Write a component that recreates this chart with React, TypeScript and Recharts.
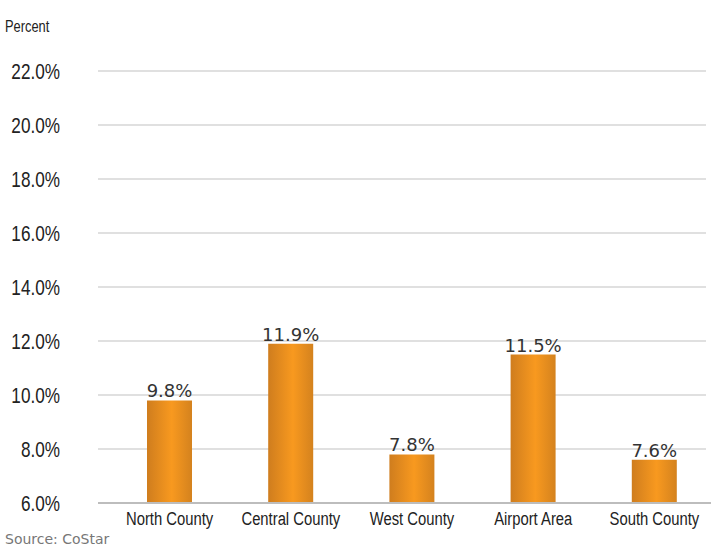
import React from "react";
import { BarChart, Bar, XAxis, YAxis, CartesianGrid, LabelList } from "recharts";

const categories = ["North County", "Central County", "West County", "Airport Area", "South County"];
const vacancyRates = [9.8, 11.9, 7.8, 11.5, 7.6];
const yTicks = [6, 8, 10, 12, 14, 16, 18, 20, 22];

const data = categories.map((name, i) => ({ name, value: vacancyRates[i] }));

const baseFont = "'Liberation Sans', Arial, sans-serif";
const SQUEEZE = 0.78;

const fmt = (v: number) => `${v.toFixed(1)}%`;

function XTick(props: any) {
  const { x, y, payload } = props;
  return (
    <g transform={`translate(${x},${y}) scale(${SQUEEZE},1)`}>
      <text x={0} y={0} dy="0.71em" textAnchor="middle" fill="#222" fontSize={19} fontFamily={baseFont}>
        {payload.value}
      </text>
    </g>
  );
}

function YTick(props: any) {
  const { x, y, payload } = props;
  return (
    <g transform={`translate(${x},${y}) scale(${SQUEEZE},1)`}>
      <text x={0} y={0} dy="0.36em" textAnchor="end" fill="#222" fontSize={22} fontFamily={baseFont}>
        {fmt(payload.value)}
      </text>
    </g>
  );
}

export default function App() {
  return (
    <div style={{ position: "absolute", left: 0, top: 0, width: 711, height: 550, background: "#fff" }}>
      <div
        style={{
          position: "absolute",
          left: 5,
          top: 16,
          fontFamily: baseFont,
          fontSize: 16.5,
          color: "#222",
          lineHeight: "20px",
          transform: `scaleX(${SQUEEZE})`,
          transformOrigin: "0 0",
          whiteSpace: "nowrap",
        }}
      >
        Percent
      </div>
      <BarChart
        width={711}
        height={550}
        data={data}
        margin={{ top: 71, right: -4, bottom: 17, left: 0 }}
      >
        <defs>
          <linearGradient id="barGrad" x1="0" y1="0" x2="1" y2="0">
            <stop offset="0%" stopColor="#cf7d1e" />
            <stop offset="55%" stopColor="#f8991f" />
            <stop offset="100%" stopColor="#d4821e" />
          </linearGradient>
        </defs>
        <CartesianGrid
          horizontal={true}
          vertical={false}
          stroke="#d6d6d6"
          strokeWidth={1.5}
          x={98}
          width={608}
        />
        <XAxis
          dataKey="name"
          padding={{ left: 11, right: 0 }}
          tickLine={false}
          tickSize={0}
          tickMargin={8}
          axisLine={{ stroke: "#bdbdbd", strokeWidth: 2 }}
          tick={<XTick />}
          interval={0}
        />
        <YAxis
          width={98}
          domain={[6, 22]}
          ticks={yTicks}
          tickFormatter={fmt}
          tickLine={false}
          tickSize={0}
          tickMargin={38}
          axisLine={false}
          tick={<YTick />}
          allowDataOverflow={true}
        />
        <Bar dataKey="value" fill="url(#barGrad)" barSize={45} isAnimationActive={false}>
          <LabelList
            dataKey="value"
            position="top"
            offset={3}
            formatter={(v: number) => fmt(v)}
            style={{ fill: "#333", fontSize: 18, fontFamily: "'DejaVu Sans', sans-serif" }}
          />
        </Bar>
      </BarChart>
      <div
        style={{
          position: "absolute",
          left: 5,
          top: 530,
          fontFamily: "'DejaVu Sans', sans-serif",
          fontSize: 14,
          color: "#777",
          lineHeight: "18px",
          whiteSpace: "nowrap",
        }}
      >
        Source: CoStar
      </div>
    </div>
  );
}
